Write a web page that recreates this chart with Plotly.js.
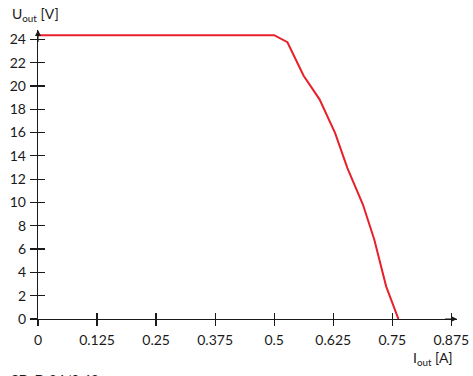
<!DOCTYPE html>
<html>
<head>
<meta charset="utf-8">
<script src="https://cdn.plot.ly/plotly-3.0.1.min.js"></script>
<style>html,body{margin:0;padding:0;background:#fff}#chart{width:473px;height:376px}</style>
</head>
<body>
<div id="chart"></div>
<script>
// Output characteristic: current (A) vs voltage (V)
const currentA = [0, 0.5, 0.528, 0.562, 0.596, 0.629, 0.655, 0.688, 0.712, 0.737, 0.763];
const voltageV = [24.35, 24.35, 23.75, 20.9, 18.85, 15.95, 12.95, 9.8, 6.8, 2.8, 0];

const xTickVals = [0, 0.125, 0.25, 0.375, 0.5, 0.625, 0.75, 0.875];
const xTickText = ["0", "0.125", "0.25", "0.375", "0.5", "0.625", "0.75", "0.875"];
const yTickVals = [0, 2, 4, 6, 8, 10, 12, 14, 16, 18, 20, 22, 24];

const xRange = [0, 0.887];
const yRange = [0, 24.8];
const ink = '#1a1a1a';
const fontFam = 'Lato, "Noto Sans", sans-serif';

const traces = [
  {x: currentA, y: voltageV, type: 'scatter', mode: 'lines',
   line: {color: '#e8202a', width: 2}, showlegend: false, hoverinfo: 'skip'},
  {x: [], y: [], xaxis: 'x2', yaxis: 'y2', type: 'scatter', mode: 'lines', showlegend: false}
];

const axisCommon = {showgrid: false, zeroline: false, showline: true, linecolor: ink, linewidth: 1.2,
  tickcolor: ink, tickwidth: 1.2, tickfont: {family: fontFam, size: 14, color: ink}, fixedrange: true};

const layout = {
  width: 473, height: 376,
  margin: {l: 38, r: 16, t: 30, b: 56.7},
  paper_bgcolor: '#fff', plot_bgcolor: '#fff',
  font: {family: fontFam, color: ink},
  xaxis: Object.assign({}, axisCommon, {range: xRange, tickmode: 'array', tickvals: xTickVals, ticktext: xTickText,
    ticks: 'outside', ticklen: 6, ticklabelstandoff: 2}),
  yaxis: Object.assign({}, axisCommon, {range: yRange, tickmode: 'array', tickvals: yTickVals,
    ticks: 'outside', ticklen: 7, ticklabelstandoff: 1}),
  xaxis2: Object.assign({}, axisCommon, {range: xRange, overlaying: 'x', anchor: 'y2', tickmode: 'array', tickvals: xTickVals,
    ticks: 'inside', ticklen: 6, showticklabels: false, showline: false}),
  yaxis2: Object.assign({}, axisCommon, {range: yRange, overlaying: 'y', anchor: 'x2', side: 'left', tickmode: 'array', tickvals: yTickVals,
    ticks: 'inside', ticklen: 7, showticklabels: false, showline: false}),
  annotations: [
    {xref: 'paper', yref: 'paper', x: 0, y: 1, xanchor: 'center', yanchor: 'top', text: '',
     showarrow: true, ax: 0, ay: 12, arrowhead: 2, arrowsize: 1, arrowwidth: 1.2, arrowcolor: ink, standoff: 0},
    {xref: 'paper', yref: 'paper', x: 1, y: 0, xanchor: 'right', yanchor: 'middle', text: '',
     showarrow: true, ax: -12, ay: 0, arrowhead: 2, arrowsize: 1, arrowwidth: 1.2, arrowcolor: ink, standoff: 0},
    {xref: 'paper', yref: 'paper', x: -38/419, y: 1 + 16/289.3, xanchor: 'left', yanchor: 'middle', xshift: 10,
     text: 'U<sub>out</sub> [V]', showarrow: false, font: {family: fontFam, size: 14, color: ink}},
    {xref: 'paper', yref: 'paper', x: 1, y: -40/289.3, xanchor: 'right', yanchor: 'middle', xshift: -2,
     text: 'I<sub>out</sub> [A]', showarrow: false, font: {family: fontFam, size: 14, color: ink}},
    {xref: 'paper', yref: 'paper', x: -38/419, y: -50/289.3, xanchor: 'left', yanchor: 'top', xshift: 9,
     text: 'SD-D 24/0.42', showarrow: false, font: {family: fontFam, size: 14, color: ink}}
  ]
};

Plotly.newPlot('chart', traces, layout, {displayModeBar: false, staticPlot: true});
</script>
</body>
</html>
